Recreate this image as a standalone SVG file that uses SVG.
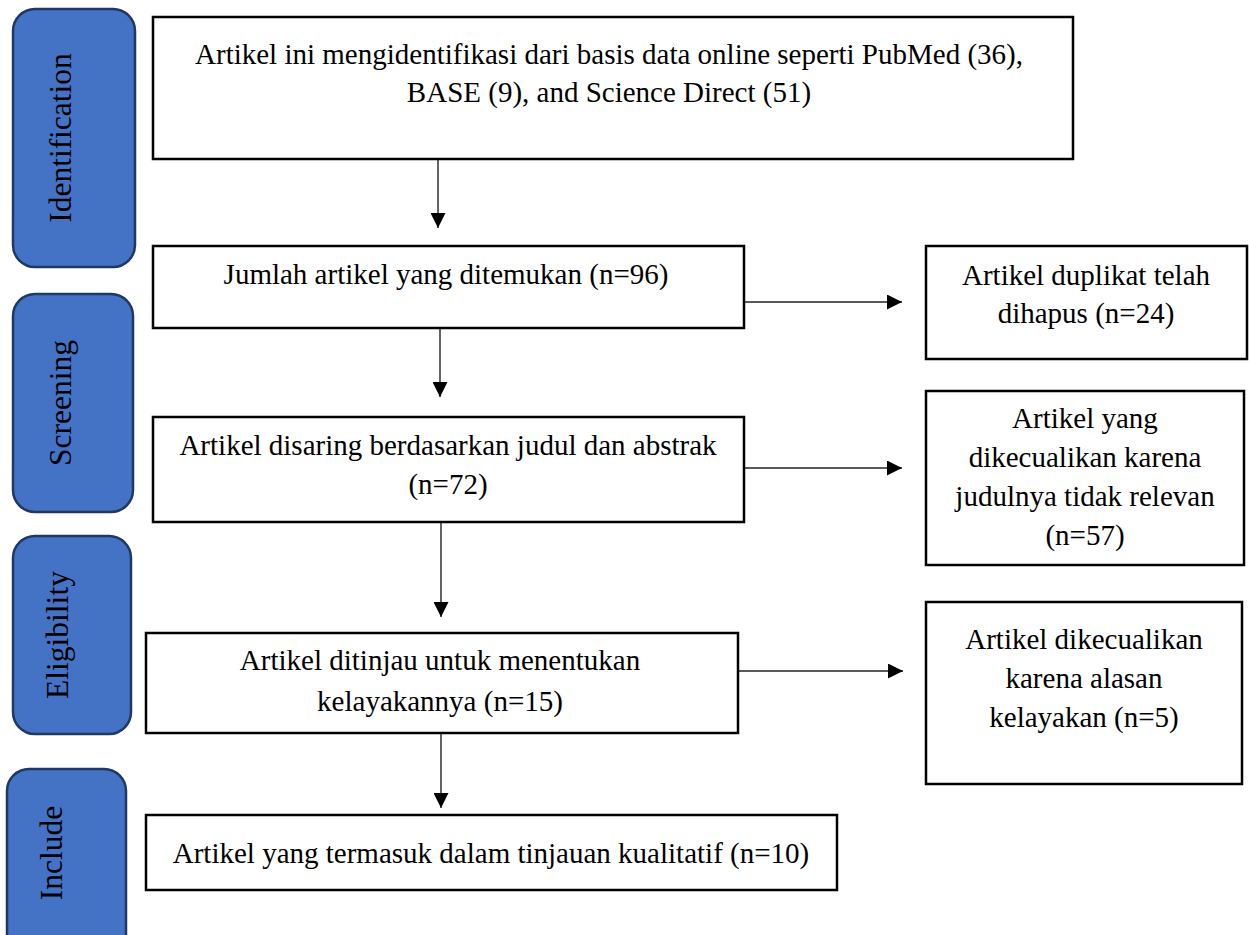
<svg xmlns="http://www.w3.org/2000/svg" width="1249" height="935" viewBox="0 0 1249 935">
<defs>
<style>
.stage{fill:#4472C4;stroke:#1F3864;stroke-width:2.5}
.stxt{font-family:"Liberation Serif","Times New Roman",serif;font-size:31.5px;fill:#000;text-anchor:middle}
.box{fill:#fff;stroke:#000;stroke-width:2.5}
.txt{font-family:"Liberation Serif","Times New Roman",serif;font-size:29px;fill:#000;text-anchor:middle}
.conn{stroke:#222;stroke-width:1.4;fill:none}
</style>
<marker id="ah" markerWidth="15" markerHeight="15" viewBox="0 0 15 15" refX="15" refY="7.5" orient="auto" markerUnits="userSpaceOnUse">
<path d="M0,0 L15,7.5 L0,15 Z" fill="#000"/>
</marker>
</defs>
<rect width="1249" height="935" fill="#fff"/>
<g id="stage-identification">
<rect class="stage" x="13" y="9" width="122" height="258" rx="22"/>
<text class="stxt" transform="translate(71,138) rotate(-90)">Identification</text>
</g>
<g id="stage-screening">
<rect class="stage" x="13" y="294" width="120" height="218" rx="22"/>
<text class="stxt" transform="translate(71,403) rotate(-90)">Screening</text>
</g>
<g id="stage-eligibility">
<rect class="stage" x="13" y="536" width="118" height="198" rx="22"/>
<text class="stxt" transform="translate(68,635) rotate(-90)">Eligibility</text>
</g>
<g id="stage-include">
<rect class="stage" x="7" y="769" width="119" height="190" rx="22"/>
<text class="stxt" transform="translate(62,853) rotate(-90)">Include</text>
</g>
<g id="connectors">
<line class="conn" x1="438" y1="159" x2="438" y2="228" marker-end="url(#ah)"/>
<line class="conn" x1="440" y1="328" x2="440" y2="397" marker-end="url(#ah)"/>
<line class="conn" x1="441" y1="522" x2="441" y2="617" marker-end="url(#ah)"/>
<line class="conn" x1="441" y1="733" x2="441" y2="808" marker-end="url(#ah)"/>
<line class="conn" x1="744" y1="302" x2="902" y2="302" marker-end="url(#ah)"/>
<line class="conn" x1="744" y1="468" x2="902" y2="468" marker-end="url(#ah)"/>
<line class="conn" x1="738" y1="671" x2="903" y2="671" marker-end="url(#ah)"/>
</g>
<g id="n1">
<rect class="box" x="153" y="17" width="920" height="142"/>
<text class="txt" x="609" y="64">Artikel ini mengidentifikasi dari basis data online seperti PubMed (36),</text>
<text class="txt" x="609" y="102">BASE (9), and Science Direct (51)</text>
</g>
<g id="n2">
<rect class="box" x="153" y="246" width="591" height="82"/>
<text class="txt" x="446" y="284">Jumlah artikel yang ditemukan (n=96)</text>
</g>
<g id="n3">
<rect class="box" x="153" y="417" width="591" height="105"/>
<text class="txt" x="448" y="455">Artikel disaring berdasarkan judul dan abstrak</text>
<text class="txt" x="448" y="494">(n=72)</text>
</g>
<g id="n4">
<rect class="box" x="146" y="633" width="592" height="100"/>
<text class="txt" x="440" y="670">Artikel ditinjau untuk menentukan</text>
<text class="txt" x="440" y="711">kelayakannya (n=15)</text>
</g>
<g id="n5">
<rect class="box" x="146" y="815" width="691" height="75"/>
<text class="txt" x="491" y="863">Artikel yang termasuk dalam tinjauan kualitatif (n=10)</text>
</g>
<g id="r1">
<rect class="box" x="926" y="246" width="321" height="113"/>
<text class="txt" x="1086" y="285">Artikel duplikat telah</text>
<text class="txt" x="1086" y="323">dihapus (n=24)</text>
</g>
<g id="r2">
<rect class="box" x="926" y="391" width="318" height="174"/>
<text class="txt" x="1085" y="428">Artikel yang</text>
<text class="txt" x="1085" y="467">dikecualikan karena</text>
<text class="txt" x="1085" y="506">judulnya tidak relevan</text>
<text class="txt" x="1085" y="545">(n=57)</text>
</g>
<g id="r3">
<rect class="box" x="926" y="602" width="316" height="182"/>
<text class="txt" x="1084" y="649">Artikel dikecualikan</text>
<text class="txt" x="1084" y="688">karena alasan</text>
<text class="txt" x="1084" y="727">kelayakan (n=5)</text>
</g>
</svg>
